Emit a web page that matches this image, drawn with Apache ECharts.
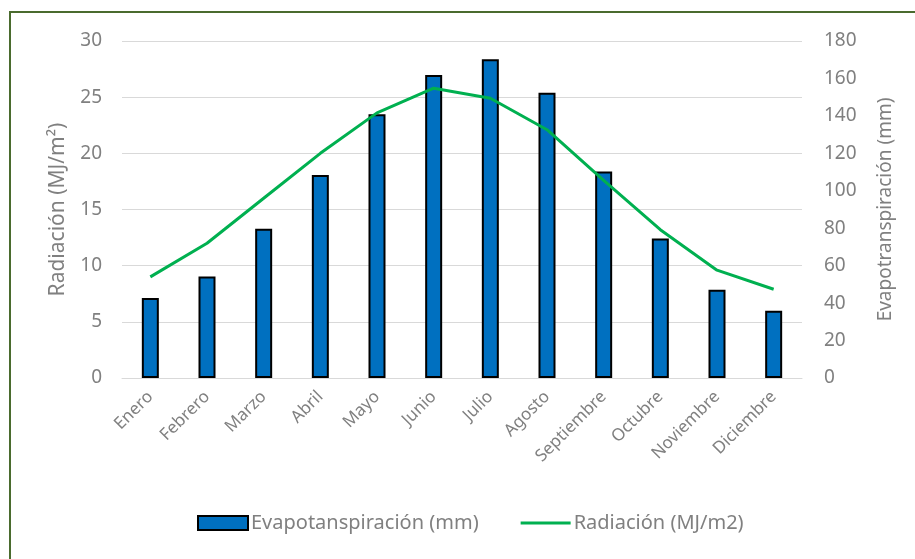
<!DOCTYPE html>
<html>
<head>
<meta charset="utf-8">
<script src="https://cdn.jsdelivr.net/npm/echarts@6/dist/echarts.min.js"></script>
<style>
  html, body { margin: 0; padding: 0; background: #fff; }
  #chart { width: 915px; height: 559px; }
</style>
</head>
<body>
<div id="chart"></div>
<script>
  // meses
  const months = ['Enero', 'Febrero', 'Marzo', 'Abril', 'Mayo', 'Junio', 'Julio', 'Agosto', 'Septiembre', 'Octubre', 'Noviembre', 'Diciembre']
  // evapotranspiración (mm), eje derecho
  const evapo = [42.7, 54.2, 79.7, 108.4, 140.9, 161.9, 170.3, 152.3, 110.3, 74.5, 47.1, 35.9]
  // radiación (MJ/m2), eje izquierdo
  const radiacion = [9.0, 12.0, 16.0, 20.0, 23.6, 25.8, 24.9, 22.1, 17.6, 13.2, 9.6, 7.9]

  const gray = '#808080'
  const font = 'Noto Sans'

  let mychart = echarts.init(document.getElementById('chart'))
  let option = {
    animation: false,
    textStyle: {fontFamily: font},
    graphic: [
      {
        type: 'rect',
        shape: {x: 10, y: 12, width: 940, height: 600},
        style: {fill: 'none', stroke: '#4a6b2e', lineWidth: 2},
        silent: true
      }
    ],
    grid: {
      left: 122,
      right: 113,
      top: 41,
      bottom: 181
    },
    legend: {
      bottom: 21,
      left: 192,
      itemWidth: 50,
      itemHeight: 14,
      itemGap: 42,
      textStyle: {color: gray, fontSize: 20, fontFamily: font, padding: [0, 0, 0, -2]},
      data: [
        {name: 'Evapotanspiración (mm)', icon: 'rect', itemStyle: {color: '#0070c0', borderColor: '#000', borderWidth: 2}},
        {name: 'Radiación (MJ/m2)', icon: 'path://M0,0H50V3H0Z', itemStyle: {color: '#00b050'}}
      ]
    },
    xAxis: {
      type: 'category',
      data: months,
      axisLine: {lineStyle: {color: '#d9d9d9', width: 1}},
      axisTick: {show: false},
      axisLabel: {
        color: gray,
        fontSize: 17,
        rotate: 45,
        interval: 0,
        margin: 16
      }
    },
    yAxis: [
      {
        type: 'value',
        min: 0,
        max: 30,
        interval: 5,
        name: 'Radiación (MJ/m²)',
        nameLocation: 'middle',
        nameRotate: 90,
        nameGap: 53,
        nameTextStyle: {color: gray, fontSize: 21},
        axisLine: {show: false},
        axisTick: {show: false},
        axisLabel: {color: gray, fontSize: 19, margin: 20},
        splitLine: {lineStyle: {color: '#d9d9d9', width: 1}}
      },
      {
        type: 'value',
        min: 0,
        max: 180,
        interval: 20,
        position: 'right',
        name: 'Evapotranspiración (mm)',
        nameLocation: 'middle',
        nameRotate: 90,
        nameGap: 74,
        nameTextStyle: {color: gray, fontSize: 19},
        axisLine: {show: false},
        axisTick: {show: false},
        axisLabel: {color: gray, fontSize: 19, margin: 22},
        splitLine: {show: false}
      }
    ],
    series: [
      {
        name: 'Evapotanspiración (mm)',
        type: 'bar',
        yAxisIndex: 1,
        barWidth: 17,
        itemStyle: {color: '#0070c0', borderColor: '#000', borderWidth: 2},
        data: evapo
      },
      {
        name: 'Radiación (MJ/m2)',
        type: 'line',
        yAxisIndex: 0,
        symbol: 'none',
        lineStyle: {color: '#00b050', width: 3},
        itemStyle: {color: '#00b050'},
        data: radiacion
      }
    ]
  }
  mychart.setOption(option)
</script>
</body>
</html>
